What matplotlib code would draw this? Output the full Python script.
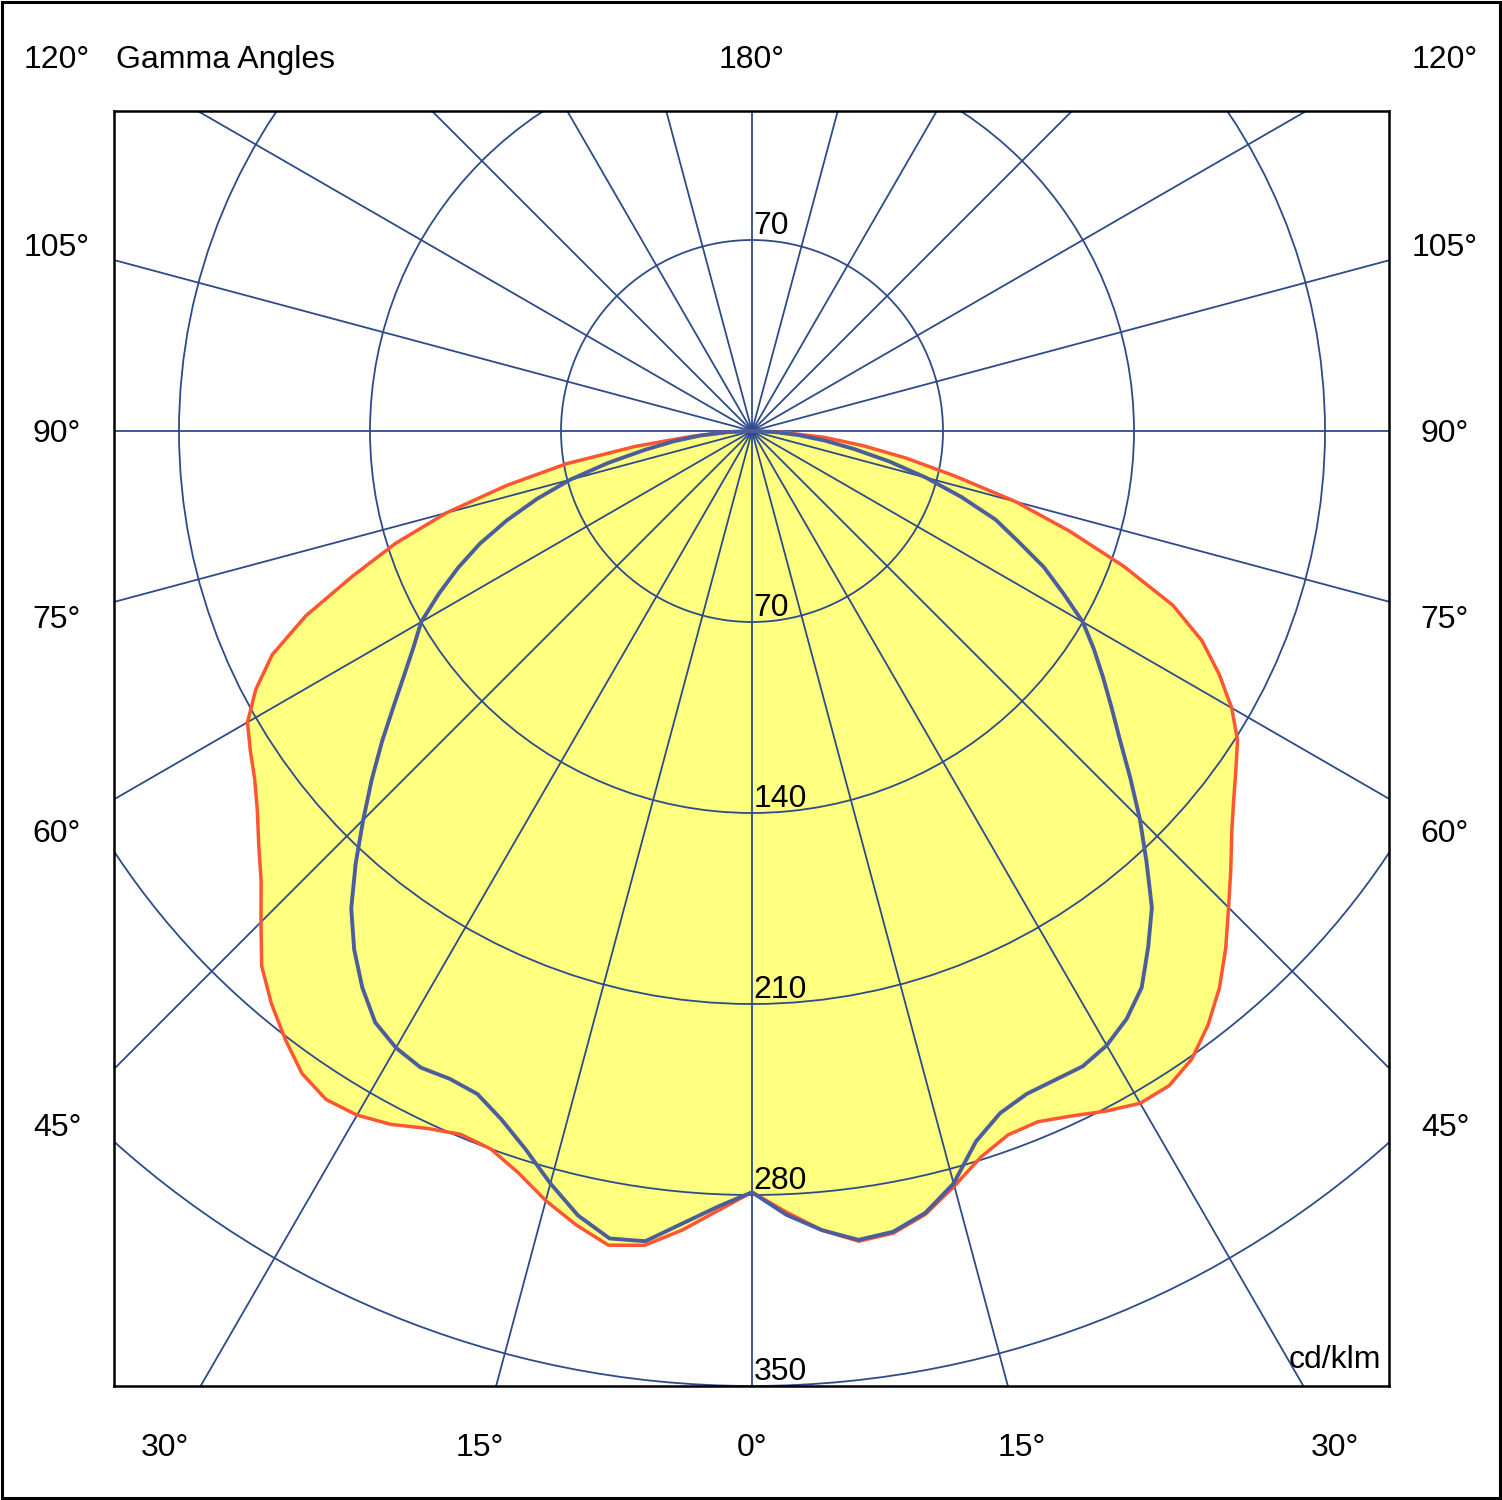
import matplotlib

matplotlib.use("Agg")

import matplotlib.pyplot as plt
import numpy as np
from matplotlib.patches import Circle, Rectangle

plt.rcParams["font.family"] = ["Liberation Sans", "DejaVu Sans"]

# gamma angles (deg, 0 = straight down) at which the intensities were read
gamma_deg = [0, 2.5, 5, 7.5, 10, 12.5, 15, 17.5, 20, 22.5, 25, 27.5, 30,
             32.5, 35, 37.5, 40, 42.5, 45, 47.5, 50, 52.5, 55, 57.5, 60,
             62.5, 65, 67.5, 70, 72.5, 75, 77.5, 80, 82.5, 85, 87.5, 90]

# red curve (filled), cd/klm
red_left = [279, 286, 294, 301, 303, 298, 292, 285, 280, 279, 282, 286.5,
            289.5, 290.5, 287.5, 281, 274, 266, 254.5, 244, 236, 228.5,
            222.5, 218, 213.5, 205, 194, 177, 156, 137, 116, 92, 69, 43,
            22, 8, 0]
red_right = [279, 286.5, 294, 299.5, 298.5, 294, 286.5, 279, 274.5, 274,
             277, 281, 284.5, 284.5, 281, 274.5, 266.5, 257, 247, 238,
             229.5, 222.5, 216.5, 211, 203, 193, 182, 167, 145, 122, 100,
             76, 57.5, 41, 26.5, 11, 0]

# blue curve, cd/klm
blue_left = [279, 284.5, 291.5, 299.5, 300.5, 294.5, 285.5, 276, 268.5,
             263, 262, 263, 261, 257, 249, 239.5, 228.5, 215, 201.5, 189,
             177, 165.5, 155.5, 147, 140, 129.5, 119, 108, 95.5, 82.5, 69,
             54, 40, 29, 19, 9, 0]
blue_right = [279, 287.5, 294, 299, 298, 293.5, 285.5, 273, 266, 263,
              262.5, 262.5, 260, 255.5, 249, 238.5, 228, 214, 201, 188, 176,
              166, 157, 148.5, 140, 128.5, 118, 105.5, 95, 80.5, 66, 51.5,
              38, 27, 17, 8, 0]

ring_values = [70, 140, 210, 280, 350]
side_labels = ["120°", "105°", "90°", "75°", "60°", "45°"]
bottom_labels = ["30°", "15°", "0°", "15°", "30°"]

# layout (pixels of the 1502x1500 picture)
W, H, DPI = 1502, 1500, 100
BOX_L, BOX_R, BOX_T, BOX_B = 114, 1389, 111, 1386
CX, CY = 752, 431
PX_PER_UNIT = (BOX_B - CY) / 350.0
SIDE_Y = [68, 256, 442, 628, 842, 1136]
BOTTOM_X = [165, 480, 752, 1022, 1335]

GRID = "#2d4b8b"
RED = "#ff5533"
BLUE = "#4b5e9b"
FILL = "#ffff80"
FS = 23


def fig_xy(px, py):
    return px / W, 1 - py / H


def curve_xy(gamma, left, right):
    g = np.radians(gamma)
    li = np.asarray(left, dtype=float)
    ri = np.asarray(right, dtype=float)
    x = np.concatenate([-(li * np.sin(g))[::-1], ri * np.sin(g)])
    y = np.concatenate([-(li * np.cos(g))[::-1], -ri * np.cos(g)])
    return x, y


def main():
    fig = plt.figure(figsize=(W / DPI, H / DPI), dpi=DPI)

    ax = fig.add_axes([BOX_L / W, 1 - BOX_B / H,
                       (BOX_R - BOX_L) / W, (BOX_B - BOX_T) / H])
    ax.set_xlim((BOX_L - CX) / PX_PER_UNIT, (BOX_R - CX) / PX_PER_UNIT)
    ax.set_ylim(-(BOX_B - CY) / PX_PER_UNIT, (CY - BOX_T) / PX_PER_UNIT)
    ax.set_xticks([])
    ax.set_yticks([])
    for spine in ax.spines.values():
        spine.set_linewidth(1.8)
        spine.set_color("black")
        spine.set_zorder(6)

    rx, ry = curve_xy(gamma_deg, red_left, red_right)
    bx, by = curve_xy(gamma_deg, blue_left, blue_right)

    ax.fill(rx, ry, color=FILL, lw=0, zorder=1)

    # polar grid
    for a in range(0, 360, 15):
        t = np.radians(a)
        ax.plot([0, 1000 * np.sin(t)], [0, -1000 * np.cos(t)],
                color=GRID, lw=1.3, zorder=2, solid_capstyle="butt")
    for r in ring_values:
        ax.add_patch(Circle((0, 0), r, fill=False, ec=GRID, lw=1.3, zorder=2))

    ax.plot(rx, ry, color=RED, lw=2.5, zorder=3, solid_joinstyle="round")
    ax.plot(bx, by, color=BLUE, lw=2.8, zorder=4, solid_joinstyle="round")

    # ring value labels
    ax.text(0.6, ring_values[0] + 2.2, str(ring_values[0]), fontsize=FS,
            ha="left", va="baseline", zorder=5)
    for r in ring_values:
        ax.text(0.6, -r + 2.2, str(r), fontsize=FS, ha="left",
                va="baseline", zorder=5)

    ax.text(*[(BOX_R - 8 - CX) / PX_PER_UNIT, -(1368 - CY) / PX_PER_UNIT],
            "cd/klm", fontsize=FS, ha="right", va="baseline", zorder=5)

    # angle labels around the box
    for label, py in zip(side_labels, SIDE_Y):
        fig.text(*fig_xy(57, py), label, fontsize=FS, ha="center",
                 va="baseline")
        fig.text(*fig_xy(1445, py), label, fontsize=FS, ha="center",
                 va="baseline")
    for label, px in zip(bottom_labels, BOTTOM_X):
        fig.text(*fig_xy(px, 1456), label, fontsize=FS, ha="center",
                 va="baseline")
    fig.text(*fig_xy(752, 68), "180°", fontsize=FS, ha="center",
             va="baseline")
    fig.text(*fig_xy(116, 68), "Gamma Angles", fontsize=FS, ha="left",
             va="baseline")

    fig.add_artist(Rectangle((2 / W, 2 / H), (W - 4) / W, (H - 4) / H,
                             transform=fig.transFigure, fill=False,
                             lw=2.2, ec="black"))

    fig.savefig("out.png", dpi=DPI)
    plt.close(fig)


if __name__ == "__main__":
    main()
